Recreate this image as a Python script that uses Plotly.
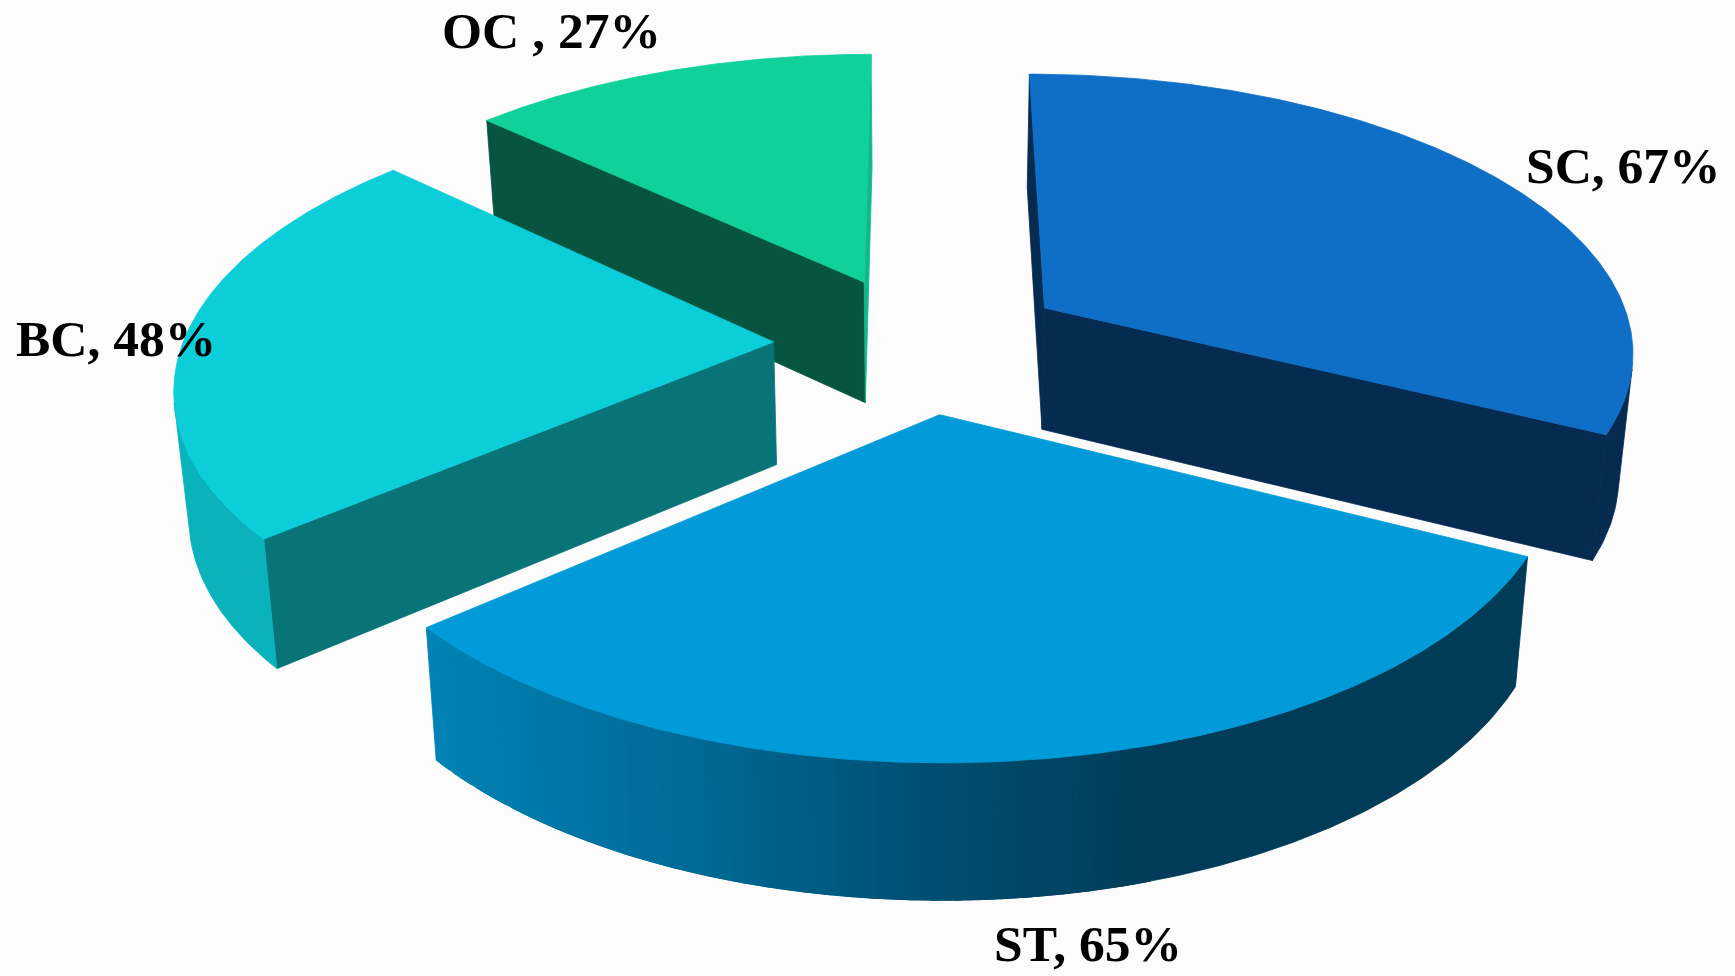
import numpy as np
import plotly.graph_objects as go

# ---- data ----
categories = ["SC", "ST", "BC", "OC"]
values = [67, 65, 48, 27]
label_texts = ["SC, 67%", "ST, 65%", "BC, 48%", "OC , 27%"]

# ---- styling ----
top_colors = {"SC": "#0f6ec6", "ST": "#009bd8", "BC": "#0bced9", "OC": "#10d09b"}
start_face = {"SC": "#062b50", "ST": "#00405c", "BC": "#087478", "OC": "#075440"}
end_face = {"SC": "#062b50", "ST": "#007fb0", "BC": "#0ab2bc", "OC": "#10b98a"}
rim_color = {"SC": "#062b50", "BC": "#0ab2bc", "OC": "#0fa87f"}
st_rim_x = [393, 620, 850, 1050, 1369]
st_rim_rgb = [(0, 130, 180), (0, 106, 152), (0, 78, 112), (0, 60, 88), (0, 60, 88)]
label_pos = {"SC": (1623, 165), "ST": (1088, 943), "BC": (116, 338), "OC": (551, 30)}

W, H = 1735, 976
SCALE = W / 1568
CX, CY, SX, SY, K = 832.5, 310.5, 534.0, 249.8, 0.142
EXPLODE = 0.25
BOTTOM_SHRINK = 0.98
DEPTH0, DEPTH1 = 100.0, 0.035
N_ARC = 180
BAND = 12.0


def project(X, Y, bottom=False):
    X, Y = np.asarray(X, float), np.asarray(Y, float)
    w = 1 - K * Y
    sx, sy = SX * X / w, SY * Y / w
    py = CY + sy
    if bottom:
        return (CX + sx * BOTTOM_SHRINK) * SCALE, (py + DEPTH0 + DEPTH1 * py) * SCALE
    return (CX + sx) * SCALE, py * SCALE


def signed_area(x, y):
    return 0.5 * np.sum(x * np.roll(y, -1) - np.roll(x, -1) * y)


def st_colour(px):
    s = (np.floor(px / BAND) + 0.5) * BAND / SCALE
    c = [np.interp(s, st_rim_x, [v[i] for v in st_rim_rgb]) for i in range(3)]
    return "rgb(%d,%d,%d)" % tuple(int(round(v)) for v in c)


fig = go.Figure()


def poly(x, y, colour, name):
    fig.add_trace(go.Scatter(
        x=np.r_[x, x[0]], y=np.r_[y, y[0]], mode="lines", fill="toself",
        fillcolor=colour, line=dict(color=colour, width=0.8),
        hoverinfo="skip", showlegend=False, name=name))


total = sum(values)
spans = np.array(values) / total * 2 * np.pi
starts = np.r_[0, np.cumsum(spans)[:-1]]
geo = {}
for cat, a0, da in zip(categories, starts, spans):
    mid = a0 + da / 2
    ox, oy = EXPLODE * np.sin(mid), -EXPLODE * np.cos(mid)
    th = np.linspace(a0, a0 + da, N_ARC)
    geo[cat] = (ox, oy, ox + np.sin(th), oy - np.cos(th))

for cat in ["OC", "SC", "BC", "ST"]:
    ox, oy, ax, ay = geo[cat]
    PX = np.r_[ox, ax]
    PY = np.r_[oy, ay]
    tx, ty = project(PX, PY)
    bx, by = project(PX, PY, True)
    top_sign = signed_area(tx, ty)
    n = len(PX)

    def visible(i, j):
        qx = np.array([tx[i], tx[j], bx[j], bx[i]])
        qy = np.array([ty[i], ty[j], by[j], by[i]])
        return signed_area(qx, qy) * top_sign < 0, qx, qy

    for i, j, col in [(0, 1, start_face[cat]), (n - 1, 0, end_face[cat])]:
        vis, qx, qy = visible(i, j)
        if vis:
            poly(qx, qy, col, cat + " side")

    # rim: consecutive strips of one colour are merged into one band that
    # overlaps the next band slightly, so that no seams show
    groups = []
    for i in range(1, n - 1):
        vis, qx, qy = visible(i, i + 1)
        if not vis:
            continue
        col = st_colour(qx.mean()) if cat == "ST" else rim_color[cat]
        if groups and groups[-1][0] == col and groups[-1][2] == i:
            groups[-1][2] = i + 1
        else:
            groups.append([col, i, i + 1])
    for col, i0, i1 in groups:
        i2 = min(i1 + 2, n - 1)
        idx = np.arange(i0, i2 + 1)
        poly(np.r_[tx[idx], bx[idx][::-1]], np.r_[ty[idx], by[idx][::-1]], col, cat + " rim")
    poly(tx, ty, top_colors[cat], cat)

annotations = [
    dict(x=label_pos[c][0], y=label_pos[c][1], text="<b>%s</b>" % t, showarrow=False,
         xref="x", yref="y", xanchor="center", yanchor="middle",
         font=dict(family="Liberation Serif", size=51.5, color="#000000"))
    for c, t in zip(categories, label_texts)
]

fig.update_layout(
    width=W, height=H, margin=dict(l=0, r=0, t=0, b=0),
    paper_bgcolor="#fcfcfc", plot_bgcolor="#fcfcfc",
    xaxis=dict(range=[0, W], visible=False, fixedrange=True),
    yaxis=dict(range=[H, 0], visible=False, fixedrange=True),
    annotations=annotations, showlegend=False,
)
fig.write_html("out.html", config={"displayModeBar": False},
               post_script="document.body.style.margin='0';document.body.style.overflow='hidden';")
